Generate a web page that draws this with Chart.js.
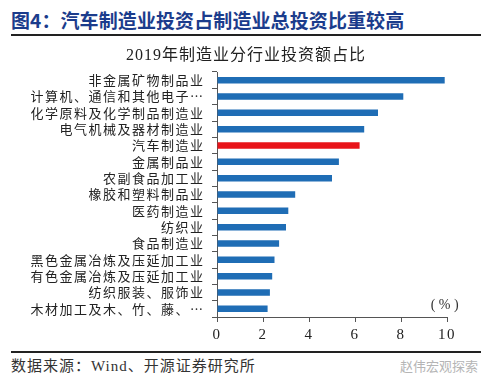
<!DOCTYPE html>
<html>
<head>
<meta charset="utf-8">
<script src="https://cdn.jsdelivr.net/npm/chart.js@4/dist/chart.umd.min.js"></script>
<style>
  html, body { margin: 0; padding: 0; background: #fff; }
  #wrap { position: relative; width: 500px; height: 374px; overflow: hidden; background: #fff; }
  #title { position: absolute; left: 11px; top: 6px; font: bold 19px "Noto Sans CJK SC", "Liberation Serif", serif; color: #1b3c8c; letter-spacing: 0.1px; white-space: nowrap; }
  .rule { position: absolute; left: 11px; width: 470px; height: 2px; background: #222; }
  #ctitle { position: absolute; left: 0; width: 492px; top: 41px; text-align: center; font: 16px "Liberation Serif", "Noto Sans CJK SC", serif; color: #222; letter-spacing: 1px; white-space: nowrap; }
  #foot { position: absolute; left: 11px; top: 354px; font: 15px "Liberation Serif", "Noto Sans CJK SC", serif; color: #333; letter-spacing: 1px; white-space: nowrap; }
  #mark { position: absolute; right: 22px; top: 356px; font: 13px "Noto Sans CJK SC", sans-serif; color: #b5b5b5; white-space: nowrap; }
  #cbox { position: absolute; left: 0; top: 40px; width: 500px; height: 310px; }
</style>
</head>
<body>
<div id="wrap">
  <div id="title">图4：汽车制造业投资占制造业总投资比重较高</div>
  <div class="rule" style="top:34px"></div>
  <div id="cbox"><canvas id="c"></canvas></div>
  <div id="ctitle"></div>
  <div class="rule" style="top:351px;height:1.5px"></div>
  <div id="foot">数据来源：Wind、开源证券研究所</div>
  <div id="mark">赵伟宏观探索</div>
</div>
<script>
const chartTitle = "2019年制造业分行业投资额占比";
const categories = [
  "非金属矿物制品业",
  "计算机、通信和其他电子…",
  "化学原料及化学制品制造业",
  "电气机械及器材制造业",
  "汽车制造业",
  "金属制品业",
  "农副食品加工业",
  "橡胶和塑料制品业",
  "医药制造业",
  "纺织业",
  "食品制造业",
  "黑色金属冶炼及压延加工业",
  "有色金属冶炼及压延加工业",
  "纺织服装、服饰业",
  "木材加工及木、竹、藤、…"
];
const shares = [9.9, 8.1, 7.0, 6.4, 6.2, 5.3, 5.0, 3.4, 3.1, 3.0, 2.7, 2.5, 2.4, 2.3, 2.2];
const highlight = "汽车制造业";
const xTicks = [0, 2, 4, 6, 8, 10];
const unitLabel = "( % )";

document.getElementById("ctitle").textContent = chartTitle;

const blue = "#1f6db5", red = "#e8141a";
const barColors = categories.map(c => c === highlight ? red : blue);

const spacingPlugin = {
  id: "spacing",
  beforeDraw(chart) { chart.ctx.letterSpacing = "1.5px"; },
  afterDraw(chart) {
    const { ctx, scales } = chart;
    ctx.letterSpacing = "0px";
    const x = scales.x.getPixelForValue(9.9);
    const y = scales.y.getPixelForValue(categories.length - 1) - 4;
    ctx.save();
    ctx.font = '14px "Liberation Serif", serif';
    ctx.fillStyle = "#333";
    ctx.textAlign = "center";
    ctx.textBaseline = "middle";
    ctx.fillText(unitLabel, x, y);
    ctx.restore();
  }
};

new Chart(document.getElementById("c"), {
  type: "bar",
  data: {
    labels: categories,
    datasets: [{
      data: shares,
      backgroundColor: barColors,
      borderWidth: 0,
      categoryPercentage: 1,
      barPercentage: 0.4
    }]
  },
  options: {
    indexAxis: "y",
    responsive: true,
    maintainAspectRatio: false,
    animation: false,
    layout: { padding: { left: 0, right: 53, top: 32, bottom: 5 } },
    plugins: {
      legend: { display: false },
      tooltip: { enabled: false },
      title: { display: false }
    },
    scales: {
      x: {
        min: 0, max: 10,
        afterBuildTicks(s) { s.ticks = xTicks.map(v => ({ value: v })); },
        afterFit(s) { s.height = 28; },
        grid: { drawOnChartArea: false, drawTicks: true, tickLength: 5, color: "#555" },
        border: { display: true, color: "#555", width: 1 },
        ticks: { color: "#222", padding: 4, font: { family: '"Liberation Serif", serif', size: 15 } }
      },
      y: {
        afterFit(s) { s.width = 217; },
        grid: { drawOnChartArea: false, drawTicks: true, tickLength: 5, color: "#555", offset: true },
        border: { display: true, color: "#555", width: 1 },
        ticks: { color: "#222", padding: 7.5, autoSkip: false, font: { family: '"Noto Sans CJK SC", sans-serif', size: 13 } }
      }
    }
  },
  plugins: [spacingPlugin]
});
</script>
</body>
</html>
